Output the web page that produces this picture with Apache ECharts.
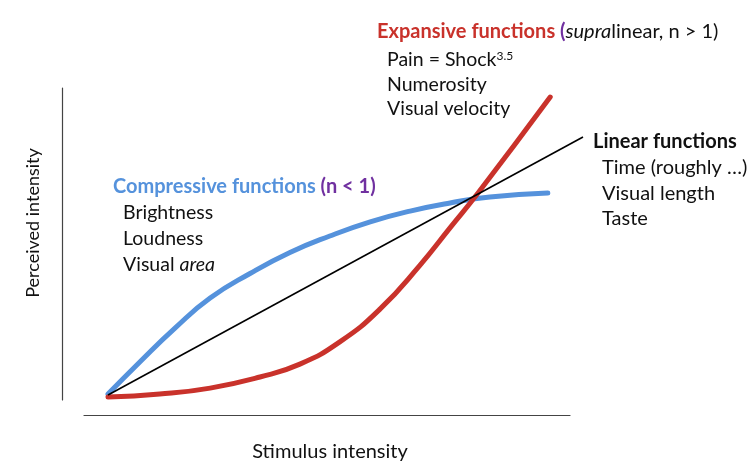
<!DOCTYPE html>
<html>
<head>
<meta charset="utf-8">
<script src="https://cdn.jsdelivr.net/npm/echarts@6/dist/echarts.min.js"></script>
<style>
html,body{margin:0;padding:0;background:#fff;}
#chart{width:756px;height:472px;}
</style>
</head>
<body>
<div id="chart"></div>
<script>
// Stimulus (x) and perceived (y) values (arbitrary units)
const compressiveX = [0, 0.67, 1.41, 2.15, 2.99, 3.83, 4.67, 5.52, 6.36, 7.2, 8.04, 9.26];
const compressiveY = [0.03, 1.1, 2.23, 3.23, 4.05, 4.75, 5.3, 5.77, 6.13, 6.4, 6.6, 6.73];
const expansiveX = [0, 1.09, 2.15, 3.2, 4.04, 4.88, 5.73, 6.57, 7.2, 7.79, 9.31];
const expansiveY = [-0.07, 0.03, 0.23, 0.6, 1.03, 1.77, 2.87, 4.33, 5.57, 6.73, 9.93];
const linearX = [0, 10];
const linearY = [0, 8.6];

const axisNames = ['Stimulus intensity', 'Perceived intensity'];
const expansiveText = ['Pain = Shock', 'Numerosity', 'Visual velocity'];
const compressiveText = ['Brightness', 'Loudness'];
const linearText = ['Time (roughly …)', 'Visual length', 'Taste'];

const BLUE = '#5592DC', RED = '#C9322B', PURPLE = '#7030A0', INK = '#111';
const FONT = 'Lato, "Open Sans", sans-serif';
const T = 20, S = 19.5;

const zip = (xs, ys) => xs.map((x, i) => [x, ys[i]]);

function txt(x, y, text, rich, size, weight) {
  return {
    type: 'text', x: x, y: y, z: 10,
    style: {
      text: text, rich: rich || {}, fill: INK, fontFamily: FONT, fontSize: size || S,
      fontWeight: weight || 'normal', align: 'left', verticalAlign: 'middle'
    }
  };
}

const chart = echarts.init(document.getElementById('chart'), null, {renderer: 'canvas'});
const option = {
  animation: false,
  backgroundColor: '#fff',
  grid: [
    {left: 108, top: 95, width: 475, height: 330},
    {left: 62, top: 88, width: 400, height: 312},
    {left: 84, top: 405, width: 486, height: 10}
  ],
  xAxis: [
    {type: 'value', gridIndex: 0, min: 0, max: 10, show: false},
    {type: 'value', gridIndex: 1, min: 0, max: 1, show: false},
    {type: 'value', gridIndex: 2, min: 0, max: 1, position: 'bottom',
      axisLine: {show: true, lineStyle: {color: '#444', width: 1.2}},
      axisTick: {show: false}, axisLabel: {show: false}, splitLine: {show: false},
      name: axisNames[0], nameLocation: 'middle', nameGap: 27,
      nameTextStyle: {color: INK, fontFamily: FONT, fontSize: 20, padding: [0, 0, 0, 6]}}
  ],
  yAxis: [
    {type: 'value', gridIndex: 0, min: -1, max: 10, show: false},
    {type: 'value', gridIndex: 1, min: 0, max: 1, position: 'left',
      axisLine: {show: true, lineStyle: {color: '#444', width: 1.2}},
      axisTick: {show: false}, axisLabel: {show: false}, splitLine: {show: false},
      name: axisNames[1], nameLocation: 'middle', nameGap: 20, nameRotate: 90,
      nameTextStyle: {color: INK, fontFamily: FONT, fontSize: 18, padding: [0, 0, 0, 42]}},
    {type: 'value', gridIndex: 2, min: 0, max: 1, show: false}
  ],
  series: [
    {type: 'line', name: 'Compressive', xAxisIndex: 0, yAxisIndex: 0, data: zip(compressiveX, compressiveY),
      smooth: 0.5, showSymbol: false, clip: false, lineStyle: {color: BLUE, width: 5, cap: 'round'}},
    {type: 'line', name: 'Expansive', xAxisIndex: 0, yAxisIndex: 0, data: zip(expansiveX, expansiveY),
      smooth: 0.5, showSymbol: false, clip: false, lineStyle: {color: RED, width: 5, cap: 'round'}},
    {type: 'line', name: 'Linear', xAxisIndex: 0, yAxisIndex: 0, data: zip(linearX, linearY),
      showSymbol: false, clip: false, lineStyle: {color: '#000', width: 1.6}}
  ],
  graphic: [
    txt(377, 32, '{r|Expansive functions }{p|(}{i|supra}{n|linear, n > 1)}', {
      r: {fill: RED, fontWeight: 'bold', fontFamily: FONT, fontSize: T},
      p: {fill: PURPLE, fontWeight: 'bold', fontFamily: FONT, fontSize: T},
      i: {fontStyle: 'italic', fontFamily: FONT, fontSize: T, fill: INK},
      n: {fontFamily: FONT, fontSize: T, fill: INK}
    }, T),
    txt(387, 60, '{n|' + expansiveText[0] + '}{s|3.5}', {
      n: {fontFamily: FONT, fontSize: S, fill: INK},
      s: {fontSize: 12, fontFamily: FONT, fill: INK, verticalAlign: 'top', padding: [0, 0, 8, 0]}
    }),
    txt(387, 85, expansiveText[1]),
    txt(387, 109, expansiveText[2]),

    txt(113, 187, '{b|Compressive functions }{p|(n < 1)}', {
      b: {fill: BLUE, fontWeight: 'bold', fontFamily: FONT, fontSize: T},
      p: {fill: PURPLE, fontWeight: 'bold', fontFamily: FONT, fontSize: T}
    }, T),
    txt(123, 213, compressiveText[0]),
    txt(123, 239, compressiveText[1]),
    txt(123, 265, '{n|Visual }{i|area}', {
      n: {fontFamily: FONT, fontSize: S, fill: INK},
      i: {fontStyle: 'italic', fontFamily: FONT, fontSize: S, fill: INK}
    }),

    txt(593, 142, 'Linear functions', null, T, 'bold'),
    txt(602, 168, linearText[0], null, 20),
    txt(602, 194, linearText[1], null, 20),
    txt(602, 219, linearText[2], null, 20)
  ]
};
chart.setOption(option);
</script>
</body>
</html>
